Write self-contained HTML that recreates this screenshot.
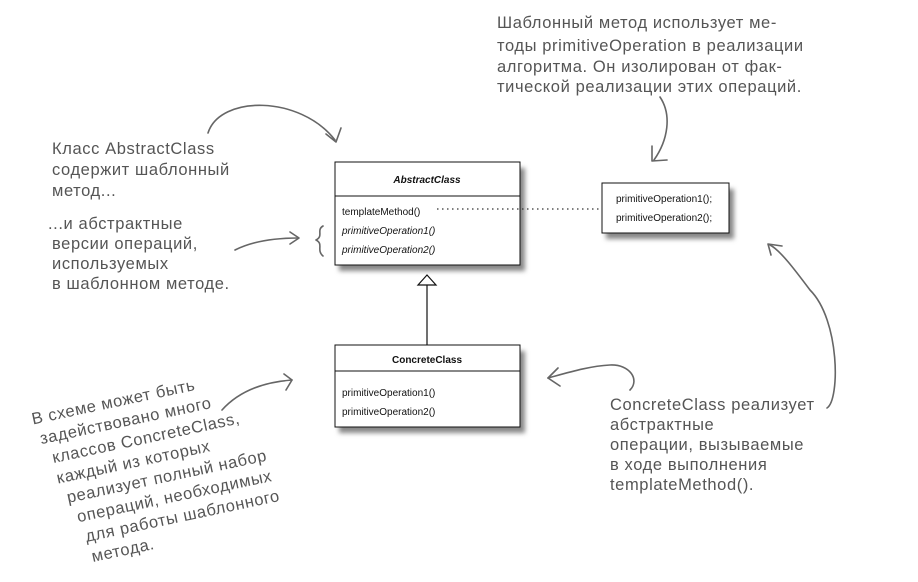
<!DOCTYPE html>
<html><head><meta charset="utf-8"><style>
html,body{margin:0;padding:0;background:#fff;width:918px;height:582px;overflow:hidden}
svg{display:block}
.h{font-family:"Liberation Sans","Noto Sans CJK SC",sans-serif;font-size:16.5px;fill:#555;letter-spacing:0.6px}
.u{font-family:"Liberation Sans",sans-serif;font-size:10px;fill:#111}
.a{fill:none;stroke:#666;stroke-width:1.6;stroke-linecap:round;stroke-linejoin:round}
</style></head><body>
<svg width="918" height="582" viewBox="0 0 918 582" xmlns="http://www.w3.org/2000/svg">
<defs><filter id="sh" x="-10%" y="-10%" width="130%" height="140%"><feGaussianBlur stdDeviation="2.5"/></filter></defs>
<rect x="339" y="168" width="186" height="103" fill="#888" filter="url(#sh)"/>
<rect x="339" y="351" width="186" height="82" fill="#888" filter="url(#sh)"/>
<rect x="606" y="189" width="128" height="50" fill="#888" filter="url(#sh)"/>
<rect x="335" y="162" width="185" height="103" fill="#fff" stroke="#111" stroke-width="1"/>
<line x1="335" y1="196" x2="520" y2="196" stroke="#111"/>
<text class="u" x="427" y="183" text-anchor="middle" font-weight="bold" font-style="italic" font-size="11">AbstractClass</text>
<text class="u" x="342" y="215">templateMethod()</text>
<text class="u" x="342" y="234" font-style="italic">primitiveOperation1()</text>
<text class="u" x="342" y="253" font-style="italic">primitiveOperation2()</text>
<rect x="335" y="345" width="185" height="82" fill="#fff" stroke="#111"/>
<line x1="335" y1="371" x2="520" y2="371" stroke="#111"/>
<text class="u" x="427" y="363" text-anchor="middle" font-weight="bold" font-size="11">ConcreteClass</text>
<text class="u" x="342" y="396">primitiveOperation1()</text>
<text class="u" x="342" y="415">primitiveOperation2()</text>
<line x1="427" y1="345" x2="427" y2="285" stroke="#111" stroke-width="1.2"/>
<polygon points="427,275 418,285 436,285" fill="#fff" stroke="#111" stroke-width="1.2"/>
<rect x="602" y="183" width="127" height="50" fill="#fff" stroke="#111"/>
<text class="u" x="616" y="202">primitiveOperation1();</text>
<text class="u" x="616" y="221">primitiveOperation2();</text>
<line x1="437" y1="209" x2="602" y2="209" stroke="#333" stroke-width="1.2" stroke-dasharray="1.5,3.5"/>
<path class="a" d="M208,133 C220,95 300,95 335,140"/><path class="a" d="M326,134 L336,142 L341,128"/>
<path class="a" d="M235,250 C255,240 280,238 298,238"/><path class="a" d="M290,232 L299,238 L290,244"/>
<path class="a" d="M323,226 C316,230 324,236 316,240 C324,244 316,250 323,256"/>
<path class="a" d="M660,97 C672,115 668,140 654,160"/><path class="a" d="M652,146 L652,161 L667,160"/>
<path class="a" d="M827,408 C840,400 840,320 810,290 C795,270 780,250 770,245"/><path class="a" d="M771,255 L768,244 L782,246"/>
<path class="a" d="M630,390 C640,380 630,364 610,365 C590,366 570,372 548,378"/><path class="a" d="M558,368 L548,378 L560,386"/>
<path class="a" d="M222,410 C240,390 265,382 292,380"/><path class="a" d="M284,374 L292,380 L286,390"/>
<g class="h">
<text x="497" y="28">Шаблонный метод использует ме-</text>
<text x="497" y="51">тоды primitiveOperation в реализации</text>
<text x="497" y="72">алгоритма. Он изолирован от фак-</text>
<text x="497" y="92">тической реализации этих операций.</text>
<text x="52" y="154">Класс AbstractClass</text>
<text x="52" y="175">содержит шаблонный</text>
<text x="52" y="196">метод...</text>
<text x="48" y="229">...и абстрактные</text>
<text x="52" y="249">версии операций,</text>
<text x="52" y="269">используемых</text>
<text x="52" y="289">в шаблонном методе.</text>
<text x="610" y="410">ConcreteClass реализует</text>
<text x="610" y="430">абстрактные</text>
<text x="610" y="450">операции, вызываемые</text>
<text x="610" y="470">в ходе выполнения</text>
<text x="610" y="490">templateMethod().</text>
<g transform="rotate(-12 30 420)">
<text x="32" y="425">В схеме может быть</text>
<text x="36" y="446">задействовано много</text>
<text x="44" y="467">классов ConcreteClass,</text>
<text x="44" y="488">каждый из которых</text>
<text x="50" y="509">реализует полный набор</text>
<text x="56" y="530">операций, необходимых</text>
<text x="60" y="551">для работы шаблонного</text>
<text x="62" y="572">метода.</text>
</g>
</g>
</svg>
</body></html>
